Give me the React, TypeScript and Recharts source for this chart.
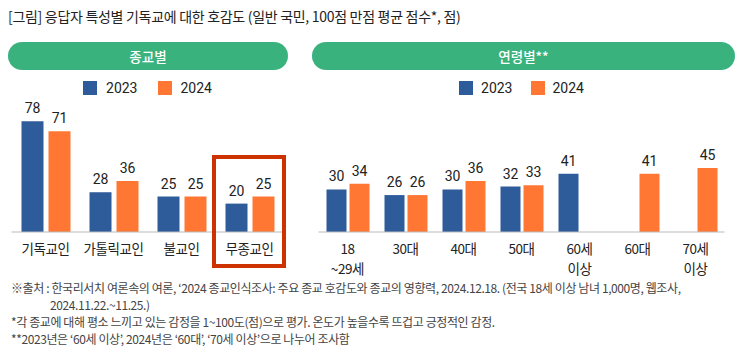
import React from 'react';
import { BarChart, Bar, XAxis, YAxis, Legend, LabelList } from 'recharts';

// ---- data ----
const religionCategories = ['기독교인', '가톨릭교인', '불교인', '무종교인'];
const religion2023 = [78, 28, 25, 20];
const religion2024 = [71, 36, 25, 25];

const ageCategories = ['18\n~29세', '30대', '40대', '50대', '60세\n이상', '60대', '70세\n이상'];
const age2023: (number | null)[] = [30, 26, 30, 32, 41, null, null];
const age2024: (number | null)[] = [34, 26, 36, 33, null, 41, 45];

const seriesNames = ['2023', '2024'];
const valueDomain = [0, 100];

const titleText = '[그림] 응답자 특성별 기독교에 대한 호감도 (일반 국민, 100점 만점 평균 점수*, 점)';
const panelTitles = ['종교별', '연령별**'];
const footnotes = [
  '※출처 : 한국리서치 여론속의 여론, ‘2024 종교인식조사: 주요 종교 호감도와 종교의 영향력, 2024.12.18. (전국 18세 이상 남녀 1,000명, 웹조사,',
  '2024.11.22.~11.25.)',
  '*각 종교에 대해 평소 느끼고 있는 감정을 1~100도(점)으로 평가. 온도가 높을수록 뜨겁고 긍정적인 감정.',
  '**2023년은 ‘60세 이상’, 2024년은 ‘60대’, ‘70세 이상’으로 나누어 조사함',
];

const religionData = religionCategories.map((c, i) => ({ name: c, y2023: religion2023[i], y2024: religion2024[i] }));
const ageData = ageCategories.map((c, i) => ({ name: c, y2023: age2023[i], y2024: age2024[i] }));

// ---- style ----
const BLUE = '#2E5B9A';
const ORANGE = '#FF7733';
const GREEN = '#3AB27E';
const RED = '#CC3300';
const KFONT = "'Noto Sans CJK KR', sans-serif";
const NFONT = "Roboto, 'Noto Sans CJK KR', sans-serif";

const Tick = (props: any) => {
  const { x, y, payload } = props;
  const lines = String(payload.value).split('\n');
  return (
    <text x={x} y={y} textAnchor="middle" fill="#222" fontSize={13.5} fontFamily={KFONT} letterSpacing={-0.4}>
      {lines.map((l, i) => (
        <tspan key={i} x={x} dy={i === 0 ? 14 : 20}>{l}</tspan>
      ))}
    </text>
  );
};

const makeLabel = (props: any) => {
  const { x, y, width, value } = props;
  if (value === null || value === undefined) return null;
  return (
    <text x={Number(x) + Number(width) / 2} y={Number(y) - 8} textAnchor="middle" fill="#222" fontSize={14} fontFamily={NFONT}>
      {value}
    </text>
  );
};

const makeLegend = (gap: number, iconGap: number) => (props: any) => {
  const payload = props.payload || [];
  return (
    <div style={{ display: 'flex', justifyContent: 'center', alignItems: 'center', fontFamily: NFONT, fontSize: 14, color: '#222' }}>
      {payload.map((p: any, i: number) => (
        <div key={i} style={{ display: 'flex', alignItems: 'center', marginLeft: i ? gap : 0 }}>
          <span style={{ width: 14, height: 14, background: p.color, display: 'inline-block', marginRight: iconGap }} />
          <span>{p.value}</span>
        </div>
      ))}
    </div>
  );
};

export default function App() {
  return (
    <div style={{ position: 'relative', width: 743, height: 359, background: '#fff', overflow: 'hidden' }}>
      <style>{`body{margin:0;}`}</style>
      <div style={{ position: 'absolute', left: 8, top: 6, fontFamily: KFONT, fontSize: 14, color: '#222', letterSpacing: -0.3, whiteSpace: 'nowrap' }}>
        {titleText}
      </div>

      <div style={{ position: 'absolute', left: 8, top: 42, width: 280, height: 28, borderRadius: 14, background: GREEN, color: '#fff', fontFamily: KFONT, fontSize: 13.5, fontWeight: 500, display: 'flex', alignItems: 'center', justifyContent: 'center' }}>
        {panelTitles[0]}
      </div>
      <div style={{ position: 'absolute', left: 312, top: 42, width: 423, height: 28, borderRadius: 14, background: GREEN, color: '#fff', fontFamily: KFONT, fontSize: 13.5, fontWeight: 500, display: 'flex', alignItems: 'center', justifyContent: 'center' }}>
        {panelTitles[1]}
      </div>

      <div style={{ position: 'absolute', left: 0, top: 0 }}>
        <BarChart width={300} height={290} data={religionData} margin={{ top: 90, right: 16.5, bottom: 0, left: 11.5 }} barSize={22} barGap={5}>
          <XAxis dataKey="name" axisLine={{ stroke: '#BBBBBB' }} tickLine={false} height={58} interval={0} tick={<Tick />} />
          <YAxis hide domain={valueDomain} />
          <Legend verticalAlign="middle" align="center" layout="horizontal" wrapperStyle={{ top: 80 }} content={makeLegend(20, 9)} />
          <Bar dataKey="y2023" name={seriesNames[0]} fill={BLUE} isAnimationActive={false}>
            <LabelList dataKey="y2023" content={makeLabel} />
          </Bar>
          <Bar dataKey="y2024" name={seriesNames[1]} fill={ORANGE} isAnimationActive={false}>
            <LabelList dataKey="y2024" content={makeLabel} />
          </Bar>
        </BarChart>
      </div>

      <div style={{ position: 'absolute', left: 300, top: 0 }}>
        <BarChart width={443} height={290} data={ageData} margin={{ top: 90, right: 18.5, bottom: 0, left: 18.5 }} barSize={20} barGap={3}>
          <XAxis dataKey="name" axisLine={{ stroke: '#BBBBBB' }} tickLine={false} height={58} interval={0} tick={<Tick />} />
          <YAxis hide domain={valueDomain} />
          <Legend verticalAlign="middle" align="center" layout="horizontal" wrapperStyle={{ top: 80 }} content={makeLegend(18, 8)} />
          <Bar dataKey="y2023" name={seriesNames[0]} fill={BLUE} isAnimationActive={false}>
            <LabelList dataKey="y2023" content={makeLabel} />
          </Bar>
          <Bar dataKey="y2024" name={seriesNames[1]} fill={ORANGE} isAnimationActive={false}>
            <LabelList dataKey="y2024" content={makeLabel} />
          </Bar>
        </BarChart>
      </div>

      <div style={{ position: 'absolute', left: 212, top: 155, width: 74, height: 113, border: `4px solid ${RED}`, boxSizing: 'border-box', pointerEvents: 'none' }} />

      <div style={{ position: 'absolute', left: 11, top: 279, fontFamily: KFONT, fontSize: 12, color: '#444', letterSpacing: -0.4, lineHeight: '17px', whiteSpace: 'nowrap' }}>
        <div>{footnotes[0]}</div>
        <div style={{ paddingLeft: 39 }}>{footnotes[1]}</div>
        <div>{footnotes[2]}</div>
        <div>{footnotes[3]}</div>
      </div>
    </div>
  );
}
